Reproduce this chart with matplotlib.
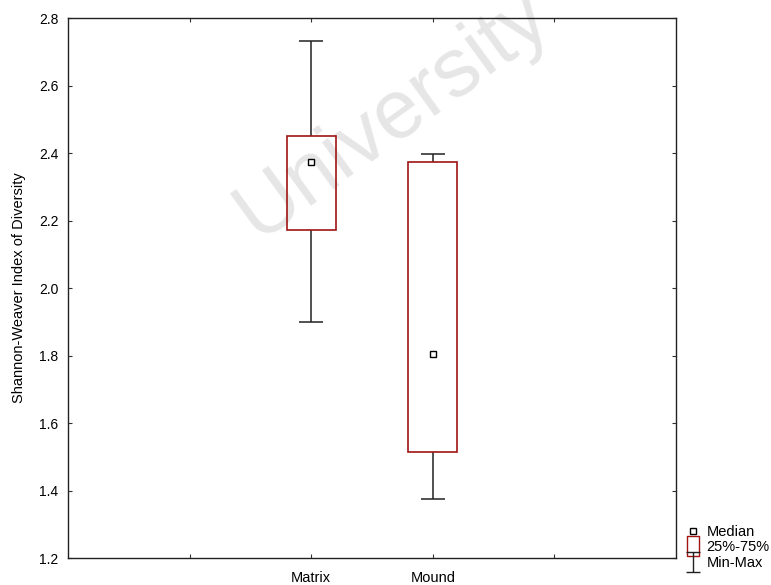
import matplotlib
matplotlib.use('Agg')
import matplotlib.pyplot as plt
import numpy as np
from matplotlib.lines import Line2D
from matplotlib.path import Path

plt.rcParams['font.family'] = ['Liberation Sans', 'DejaVu Sans']

categories = ['Matrix', 'Mound']
positions = [2, 3]
medians = [2.373, 1.805]
q1 = [2.171, 1.513]
q3 = [2.451, 2.374]
mins = [1.898, 1.374]
maxs = [2.733, 2.397]

box_red = '#a01414'

fig = plt.figure(figsize=(7.71, 5.85), dpi=100)
ax = fig.add_axes([68 / 771, 1 - 558 / 585, (676 - 68) / 771, (558 - 18) / 585])

# faint watermark behind the plot
ax.text(0.535, 0.82, 'University', transform=ax.transAxes, rotation=36,
        fontsize=60, color='#e6e6e6', ha='center', va='center', zorder=0)

# boxes (25%-75%)
height = np.array(q3) - np.array(q1)
ax.bar(positions, height, bottom=q1, width=0.4, fill=False,
       edgecolor=box_red, linewidth=1.2, zorder=3)

# whiskers and caps (min-max)
ax.vlines(positions, q3, maxs, color='#222222', linewidth=1.1, zorder=2)
ax.vlines(positions, mins, q1, color='#222222', linewidth=1.1, zorder=2)
for p, lo, hi in zip(positions, mins, maxs):
    ax.hlines([lo, hi], p - 0.1, p + 0.1, color='#222222', linewidth=1.1, zorder=2)

# medians
ax.plot(positions, medians, linestyle='none', marker='s', markersize=4,
        markerfacecolor='white', markeredgecolor='black', markeredgewidth=1, zorder=4)

ax.set_xlim(0, 5)
ax.set_ylim(1.2, 2.8)
ax.set_xticks([1, 2, 3, 4])
ax.set_xticklabels(['', 'Matrix', 'Mound', ''])
ax.set_yticks(np.arange(1.2, 2.81, 0.2))
ax.set_yticklabels(['%.1f' % v for v in np.arange(1.2, 2.81, 0.2)])
ax.tick_params(direction='in', top=True, right=True, length=3, width=0.8,
               color='#333333')
ax.tick_params(axis='x', pad=9, labelsize=10.5)
ax.tick_params(axis='y', pad=7, labelsize=10)
for s in ax.spines.values():
    s.set_linewidth(1.0)
    s.set_color('#222222')

ax.set_ylabel('Shannon-Weaver Index of Diversity', fontsize=10.5, labelpad=9)

# legend symbols
rect_marker = Path([(-0.3, -0.5), (0.3, -0.5), (0.3, 0.5), (-0.3, 0.5), (-0.3, -0.5)],
                   [Path.MOVETO, Path.LINETO, Path.LINETO, Path.LINETO, Path.CLOSEPOLY])
ibeam_marker = Path([(-0.35, 0.5), (0.35, 0.5), (0, 0.5), (0, -0.5), (-0.35, -0.5), (0.35, -0.5)],
                    [Path.MOVETO, Path.LINETO, Path.MOVETO, Path.LINETO, Path.MOVETO, Path.LINETO])
handles = [
    Line2D([], [], linestyle='none', marker='s', markersize=4,
           markerfacecolor='white', markeredgecolor='black', markeredgewidth=1),
    Line2D([], [], linestyle='none', marker=rect_marker, markersize=14,
           markerfacecolor='none', markeredgecolor=box_red, markeredgewidth=1),
    Line2D([], [], linestyle='none', marker=ibeam_marker, markersize=14,
           markerfacecolor='none', markeredgecolor='#222222', markeredgewidth=1),
]
fig.legend(handles, ['Median', '25%-75%', 'Min-Max'], loc='upper left',
           bbox_to_anchor=(686 / 771, 1 - 525 / 585), frameon=False,
           fontsize=10.5, handlelength=0.9, handletextpad=0.5,
           labelspacing=0.1, borderpad=0, borderaxespad=0)

fig.savefig('out.png', dpi=100)
